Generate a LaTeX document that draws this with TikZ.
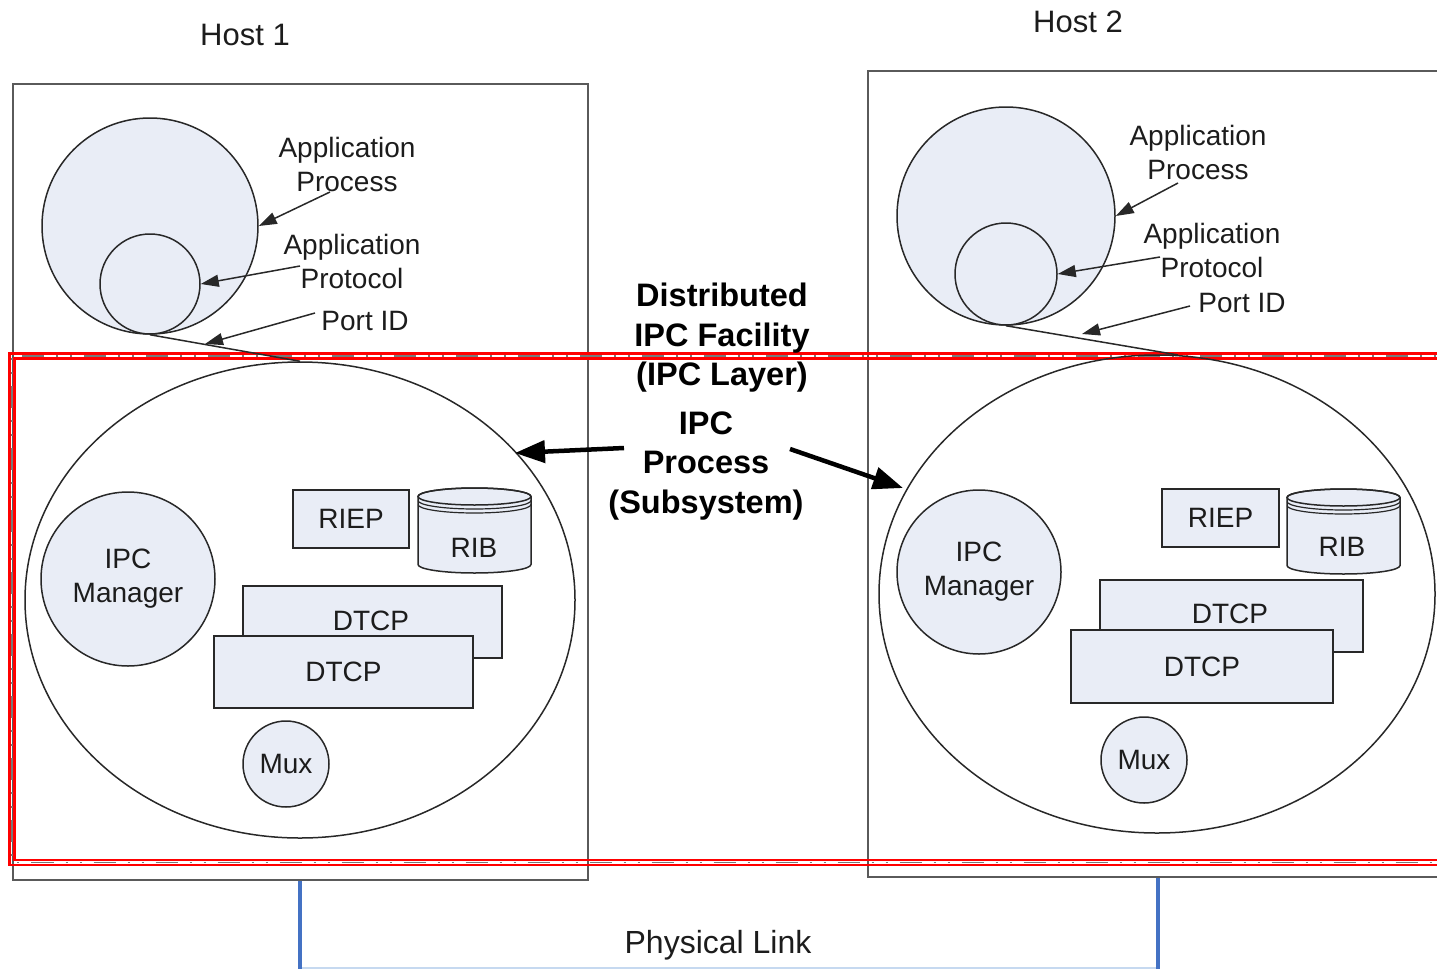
\documentclass[tikz,border=0pt]{standalone}
\usepackage{fontspec}
\setmainfont{Liberation Sans}
\usetikzlibrary{arrows.meta,shapes.geometric}

\definecolor{shapefill}{RGB}{233,237,246}
\definecolor{edge}{RGB}{40,40,40}
\definecolor{hostline}{RGB}{90,90,90}
\definecolor{linkblue}{RGB}{68,114,196}
\definecolor{linkpale}{RGB}{198,217,240}
\definecolor{txt}{RGB}{28,28,28}
\definecolor{layerdash}{RGB}{120,120,120}

\tikzset{
  lbl/.style={font=\fontsize{28}{34}\selectfont, align=center, inner sep=0pt, text=txt},
  hostlbl/.style={font=\fontsize{31}{36}\selectfont, inner sep=0pt, text=txt},
  boldlbl/.style={font=\fontsize{32.5}{39.5}\selectfont\bfseries, align=center, inner sep=0pt, text=black},
  hostbox/.style={draw=hostline, line width=2.2pt},
  disc/.style={circle, draw=edge, line width=1.5pt, fill=shapefill, inner sep=0pt},
  blob/.style={ellipse, draw=edge, line width=1.5pt, inner sep=0pt},
  part/.style={rectangle, draw=edge, line width=1.5pt, fill=shapefill, inner sep=0pt,
               font=\fontsize{28}{34}\selectfont, text=txt},
  pointer/.style={draw=edge, line width=1.5pt, -{Triangle[length=18pt,width=12pt]}},
  bigpointer/.style={draw=black, line width=4.5pt, -{Triangle[length=30pt,width=22pt]}},
  tether/.style={draw=edge, line width=1.5pt},
  layerred/.style={draw=red, line width=2.4pt},
  layermid/.style={draw=layerdash, line width=1.6pt,
                   dash pattern=on 22pt off 12pt on 2pt off 12pt on 2pt off 12pt},
  wire/.style={draw=linkblue, line width=3.2pt},
  drum/.pic={
    \path[draw=edge, fill=shapefill, line width=1.5pt]
      (-56.5,0) -- (-56.5,68)
      arc[start angle=180, end angle=360, x radius=56.5pt, y radius=8.5pt]
      -- (56.5,0)
      arc[start angle=0, end angle=180, x radius=56.5pt, y radius=8.5pt] -- cycle;
    \draw[edge, line width=1.5pt] (0,0) ellipse[x radius=56.5pt, y radius=8.5pt];
    \draw[edge, line width=1.2pt] (-56.5,4)
      arc[start angle=180, end angle=360, x radius=56.5pt, y radius=8.5pt];
    \draw[edge, line width=1.2pt] (-56.5,8)
      arc[start angle=180, end angle=360, x radius=56.5pt, y radius=8.5pt];
  }
}

\begin{document}
\begin{tikzpicture}[x=1pt, y=-1pt]
\useasboundingbox (0,0) rectangle (1437,969);

% ---------- host frames ----------
\draw[hostbox] (13,84) rectangle (588,880);
\draw[hostbox] (868,71) rectangle (1470,877);
\node[hostlbl] (h1) at (245,35) {Host 1};
\node[hostlbl] (h2) at (1078,22) {Host 2};

% ---------- the IPC layer band ----------
\draw[layerred] (1470,353.5) -- (9.5,353.5) -- (9.5,865) -- (1470,865);
\draw[layerred] (1470,358.5) -- (14.5,358.5) -- (14.5,860) -- (1470,860);
\draw[layermid] (1470,356) -- (12,356) -- (12,862.5) -- (1470,862.5);

% ---------- physical link ----------
\draw[linkpale, line width=2pt] (300,967.5) -- (1158,967.5);
\coordinate (w1top) at (300,881);
\coordinate (w1bot) at (300,969);
\coordinate (w2top) at (1158,878);
\coordinate (w2bot) at (1158,969);
\draw[wire] (w1top) -- (w1bot);
\draw[wire] (w2top) -- (w2bot);
\node[font=\fontsize{32}{38}\selectfont, inner sep=0pt, text=txt] (phys) at (718,945) {Physical Link};

% ================= Host 1 =================
\node[disc, minimum size=216pt] (app1) at (150,226) {};
\node[disc, minimum size=100pt] (prot1) at (150,284) {};
\node[blob, minimum width=550pt, minimum height=476pt] (ipc1) at (300,600) {};
\draw[tether] (prot1.south) -- (ipc1.north);

\node[lbl] (lap1) at (347,164) {Application\\Process};
\node[lbl] (lpr1) at (352,261) {Application\\Protocol};
\node[lbl] (lpid1) at (365,321) {Port ID};
\coordinate (sap1) at (330,192);
\coordinate (spr1) at (300,266);
\coordinate (spid1) at (315,313);
\coordinate (tpid1) at (205,344);
\draw[pointer] (sap1) -- (app1.east);
\draw[pointer] (spr1) -- (prot1.east);
\draw[pointer] (spid1) -- (tpid1);

\node[disc, minimum size=174pt, lbl] (mgr1) at (128,579) {IPC\\Manager};
\node[part, minimum width=116pt, minimum height=58pt] (riep1) at (351,519) {RIEP};
\pic at (474.5,496.5) {drum};
\node[lbl] (rib1) at (474,548) {RIB};
\node[part, minimum width=259pt, minimum height=72pt] (dtb1) at (372.5,622) {};
\node[lbl] (dtbt1) at (371,621) {DTCP};
\node[part, minimum width=259pt, minimum height=72pt] (dtf1) at (343.5,672) {DTCP};
\node[disc, minimum size=86pt, lbl] (mux1) at (286,764) {Mux};

% ================= Host 2 =================
\node[disc, minimum size=218pt] (app2) at (1006,216) {};
\node[disc, minimum size=102pt] (prot2) at (1006,274) {};
\node[blob, minimum width=556pt, minimum height=478pt] (ipc2) at (1157,594) {};
\draw[tether] (prot2.south) -- (ipc2.85);

\node[lbl] (lap2) at (1198,152) {Application\\Process};
\node[lbl] (lpr2) at (1212,250) {Application\\Protocol};
\node[lbl] (lpid2) at (1242,303) {Port ID};
\coordinate (sap2) at (1178,183);
\coordinate (spr2) at (1160,257);
\coordinate (spid2) at (1190,306);
\coordinate (tpid2) at (1082,334);
\draw[pointer] (sap2) -- (app2.east);
\draw[pointer] (spr2) -- (prot2.east);
\draw[pointer] (spid2) -- (tpid2);

\node[disc, minimum size=164pt, lbl] (mgr2) at (979,572) {IPC\\Manager};
\node[part, minimum width=117pt, minimum height=58pt] (riep2) at (1220.5,518) {RIEP};
\pic at (1343.5,497.5) {drum};
\node[lbl] (rib2) at (1342,547) {RIB};
\node[part, minimum width=263pt, minimum height=72pt] (dtb2) at (1231.5,616) {};
\node[lbl] (dtbt2) at (1230,614) {DTCP};
\node[part, minimum width=262pt, minimum height=73pt] (dtf2) at (1202,666.5) {DTCP};
\node[disc, minimum size=86pt, lbl] (mux2) at (1144,760) {Mux};

% ---------- centre labels ----------
\node[boldlbl] (dif) at (722,338) {Distributed\\IPC Facility\\(IPC Layer)};
\node[boldlbl] (ipcp) at (706,466) {IPC\\Process\\(Subsystem)};
\coordinate (sL) at (624,448);
\coordinate (tL) at (515,453);
\coordinate (sR) at (790,449);
\coordinate (tR) at (903,488);
\draw[bigpointer] (sL) -- (tL);
\draw[bigpointer] (sR) -- (tR);
\end{tikzpicture}
\end{document}
